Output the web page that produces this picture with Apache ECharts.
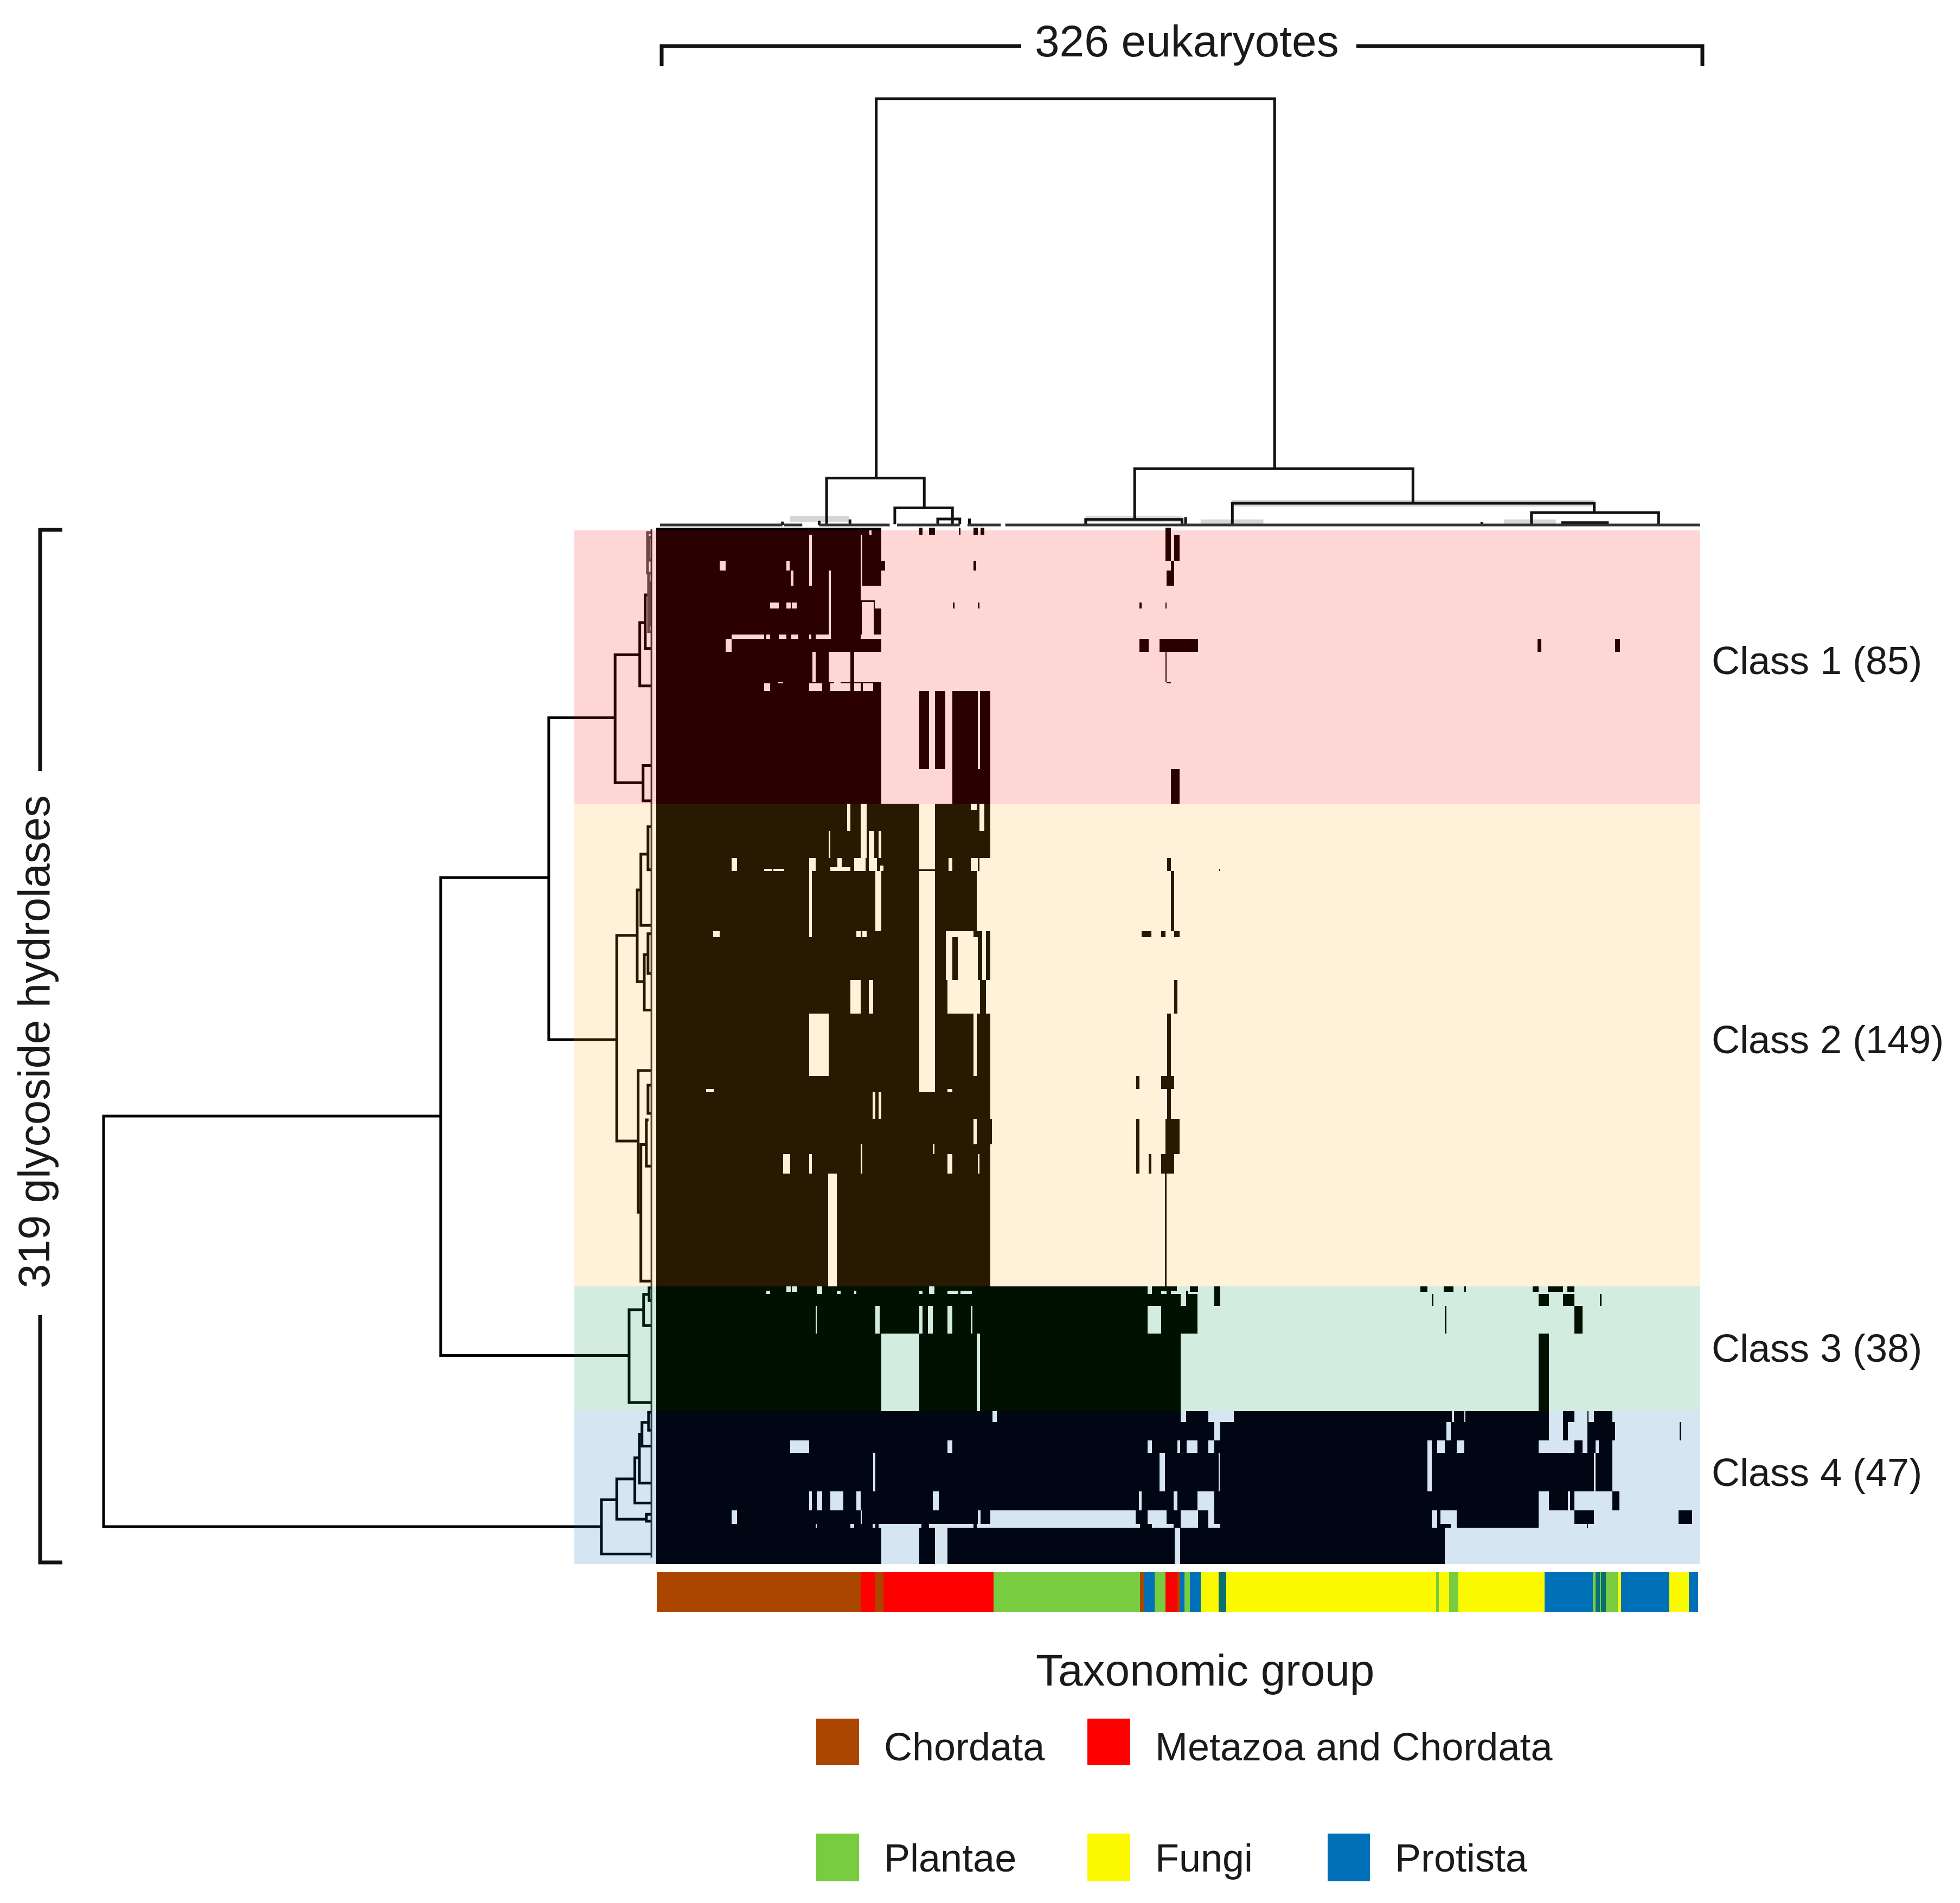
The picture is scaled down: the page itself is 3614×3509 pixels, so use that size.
<!DOCTYPE html>
<html><head><meta charset="utf-8">
<script src="https://cdn.jsdelivr.net/npm/echarts@6/dist/echarts.min.js"></script>
<style>html,body{margin:0;padding:0;background:#fff}#c{width:3614px;height:3509px}</style>
</head><body><div id="c"></div>
<script>
// Matrix cells: [colStart, colEnd, rowStart, rowEnd] on 326 eukaryotes x 319 glycoside hydrolases
const class1Base=[[0,70.3,0,85]];
const class1Gaps=[[63.9,64.4,2.2,17.8],[66.5,67.3,0,2.2],[19.8,21.7,10.1,13.2],[40.7,41.7,10.1,13.2],[42,42.9,13.2,17.8],[47.7,48.6,2.2,17.8],[53.8,54.6,13.2,34.2],[35.5,38.3,23,24.8],[40.7,42,23,24.8],[42.4,43.9,23,24.8],[63.9,70.3,17.8,22.4],[64.2,67.9,22.9,34.2],[68.2,70.3,22.4,24.8],[63.9,70.3,32.9,34.2],[23.6,33.7,32.9,34.2],[34.4,35.5,32.9,34.2],[38.3,40.7,32.9,34.2],[42.1,44.4,32.9,34.2],[47.7,48.5,32.9,34.2],[49.8,53.8,32.9,34.2],[21.7,23.6,34.2,38.3],[48.7,49.8,38.3,47.5],[53.8,60.6,38.3,47.5],[61.8,70.3,38.3,47.5],[33.7,35.5,47.9,50.2],[38,39.7,47.5,47.9],[47.7,51.9,47.9,50.2],[54.4,60.6,47.9,50.2],[61.8,63.9,47.9,50.2],[64.6,67.8,47.9,50.2],[55.5,57.5,47.5,47.9]];
const class1Marks=[[70.3,71.4,10.1,13.2],[68,70.3,47.5,50.2],[82.1,83.1,0,2.2],[85.2,87,0,2.2],[94.5,95,0,2.2],[99,100.4,0,2.2],[101.3,102.5,0,2.2],[99,100,10.1,13.2],[92.6,93.2,23,24.8],[100.4,101,23,24.8],[159,160.7,0,10.1],[161.7,163.5,2.2,10.1],[160.7,161.7,10.1,13.2],[159.3,161.7,13.2,17.8],[150.9,151.5,23,24.8],[159,159.4,23,24.8],[150.9,153.7,34.2,38.3],[157.2,169.2,34.2,38.3],[159,159.4,38.3,47.5],[159.3,160.7,47.5,47.9],[160.7,163.5,74.3,85],[275.2,276.4,34.2,38.3],[299.4,300.9,34.2,38.3],[82.1,85.2,50.2,74.3],[87,90.3,50.2,74.3],[92.5,100.4,50.2,85],[101.1,104.3,50.2,85],[100.4,101.1,74.3,85]];
const class1TopEdge=[[0,70.3,0,0.8]];

const class2Base=[[0,104.3,85,233.5]];
const class2Gaps=[[82.1,87,85,168.8],[82.1,87,168.8,173.7],[100.1,104.3,105.7,124.2],[59.6,60.6,85,93.3],[63.9,65.7,85,101.6],[101,102.5,85,93.3],[98.3,100.1,85,87],[53.8,54.3,93.3,101.6],[66.4,68.1,93.3,101.6],[69.5,70.3,93.3,101.6],[23.6,25.3,101.6,105.7],[33.7,36,105,105.7],[36.5,40,105,105.7],[47.7,49.8,101.6,105.7],[54.4,60.6,104.5,105.7],[56.5,58,101.6,105.7],[61.8,65.3,101.6,105.7],[66.4,69,101.6,105.7],[70,71,104,105.7],[91.2,92.4,101.6,105.7],[98.3,100.4,101.6,105.7],[101,104.3,101.6,105.7],[47.7,48.6,105.7,126.1],[68.4,70.3,105.7,124.2],[17.8,19.8,124.2,126.1],[62.5,63.9,124.2,126.1],[64.3,65.7,124.2,126.1],[91,99,124.2,126.1],[90.5,92.5,124.2,139.2],[94.2,100.4,126.1,139.2],[101.8,102.9,124.2,139.2],[91,101.1,139.2,149.6],[102.9,104.3,139.2,149.6],[60.6,63.9,139.2,149.6],[66.4,67.8,139.2,149.6],[47.7,53.9,149.6,168.8],[99,100.1,149.6,168.8],[91,92.4,172.7,173.7],[15.6,18,172.7,173.7],[67.5,68.4,173.7,182],[69.5,70.3,173.7,182],[99,100.1,182,189.8],[63.9,64.3,189.8,198.8],[86.3,86.9,189.8,192.8],[39.7,41.8,192.8,198.8],[47.7,48.6,192.8,198.8],[91,92.4,192.8,198.8],[100.4,101,192.8,198.8],[53.6,56.4,198.8,233.5]];
const class2Marks=[[82.1,87,105.1,105.7],[104.3,104.9,182,189.8],[159.5,160.7,101.6,105.7],[160.7,161.7,105.7,124.2],[151.6,154.7,124.2,126.1],[157.6,159,124.2,126.1],[161.7,163.5,124.2,126.1],[161.7,162.8,139.2,149.6],[159.5,160.7,149.6,168.8],[157.6,161.7,168.8,172.7],[149.8,150.9,168.8,172.7],[159.5,160.7,172.7,182],[159,163.5,182,192.8],[149.8,150.9,182,198.8],[153.7,154.7,192.8,198.8],[157.6,161.7,192.8,198.8],[158.9,159.4,198.8,233.5],[175.8,176.1,105,105.7]];

const class3Base=[[0,163.7,233.5,272]];
const class3Gaps=[[70.3,82.1,248.1,272],[100.1,101.1,248.1,272],[49.8,50.2,239.5,248.1],[68.4,69.8,239.5,248.1],[82.1,83.1,239.5,248.1],[84.9,86.3,239.5,248.1],[91,92.4,239.5,248.1],[98.3,98.7,239.5,248.1],[153.5,157.6,239.5,248.1],[34.4,35.5,234.9,235.9],[40.7,42,233.5,235.2],[42.4,44,233.5,235.2],[50.2,51.9,233.5,235.9],[56.4,57.5,234.9,235.9],[61.8,62.5,234.9,235.9],[82.1,83.1,234.9,235.9],[85.2,86.9,233.5,235.9],[91,94.3,234.9,235.9],[95,98.5,234.9,235.9],[153.5,154.8,233.5,235.9],[157.6,159.3,235,235.9],[160.7,163.7,234.9,235.9],[162.5,163.7,233.5,235.9]];
const class3Marks=[[165.4,169,235.9,239.5],[163.7,169,239.5,248.1],[166.7,169.2,233.5,235.2],[165.4,166.2,234.9,235.9],[174.3,176.1,233.5,239.5],[238.6,240.8,233.5,235.2],[245.9,249,233.5,235.2],[252.3,252.8,233.5,235.2],[273.6,275.5,233.5,235.2],[278.4,283.1,233.5,235.2],[284.5,286.7,233.5,235.2],[242.2,242.7,235.9,239.5],[275.5,278.7,235.9,239.5],[283.1,286.7,235.9,239.5],[294.7,295.2,235.9,239.5],[246.2,246.7,239.5,248.1],[286.7,289.2,239.5,248.1],[275.5,278.7,248.1,272]];

const class4Base=[[0,298.5,272,307.8]];
const class4Gaps=[[163.7,165.4,272,275.2],[172.4,180.3,272,275.2],[248.5,249.1,272,275.2],[252.3,252.7,272,275.2],[278.7,283.1,272,275.2],[286.7,290.8,272,275.2],[291.1,292.8,272,275.2],[105,106.3,272,275.2],[174.3,176.1,275.2,281],[246.8,248.1,275.2,281],[278.7,283.1,275.2,281],[284.6,290.8,275.2,281],[41.8,47.7,281,284.7],[91,92.4,281,284.7],[153.5,154.8,281,284.7],[162.8,163.6,281,284.7],[165.7,169,281,284.7],[172.4,174.3,281,284.7],[240.8,242.1,281,284.7],[243.9,246.2,281,284.7],[250,252.3,281,284.7],[275.5,286.7,281,284.7],[289.2,290.8,281,284.7],[293.3,294.4,281,284.7],[67.7,68.4,284.7,296.6],[157.1,158.9,284.7,296.6],[175.6,175.9,284.7,296.6],[240.8,242.1,284.7,296.6],[292.8,293.3,284.7,296.6],[47.7,48.6,296.6,302.5],[50.2,51.9,296.6,302.5],[54.3,58.5,296.6,302.5],[62.5,63.9,296.6,302.5],[86.3,88.2,296.6,302.5],[150.7,151.5,296.6,302.5],[161.6,162.8,296.6,302.5],[169,174.3,296.6,302.5],[275.5,278.7,296.6,302.5],[284.6,285.4,296.6,302.5],[286.7,298.5,296.6,302.5],[23.6,25.3,302.5,306.6],[63.9,64.2,302.5,306.6],[100.4,101.2,302.5,306.6],[104.3,149.7,302.5,306.6],[153.5,159.3,302.5,306.6],[163.7,169.2,302.5,306.6],[172.4,174.3,302.5,306.6],[242.1,243.9,302.5,306.6],[244.9,250,302.5,306.6],[275.5,286.7,302.5,306.6],[292.8,298.5,302.5,306.6],[49.8,50.2,306.6,307.8],[60.6,61.8,306.6,307.8],[67.5,68.4,306.6,307.8],[69.5,82.8,306.6,307.8],[85.2,99,306.6,307.8],[100.1,151,306.6,307.8],[154.8,161.6,306.6,307.8],[163.7,169.2,306.6,307.8],[172.4,176.1,306.6,307.8],[242.1,243.9,306.6,307.8],[248.1,250,306.6,307.8],[275.5,298.5,306.6,307.8]];
const class4Marks=[[0,70.3,307.8,319],[82.1,87,307.8,319],[91,161.9,307.8,319],[163.6,246.2,307.8,319],[298.5,299.4,275.2,281],[298.5,300.7,296.6,302.5],[290.6,291,306.6,307.8],[319.5,320.1,275.2,281],[319.2,323.4,302.5,306.6]];

// Class bands: [rowStart, rowEnd, tint]
const classBands=[[0.8,85,'rgba(255,0,0,0.161)'],[85,233.5,'rgba(255,170,0,0.15)'],[233.5,272,'rgba(0,150,80,0.176)'],[272,319,'rgba(0,100,170,0.165)']];
const classPresent=['#2b0000','#271a00','#001100','#000614'];
const classAbsent=['#ffd6d6','#fff2d9','#d2ede0','#d5e5f1'];
const classLabels=['Class 1 (85)','Class 2 (149)','Class 3 (38)','Class 4 (47)'];

// Taxonomic strip: [colStart, colEnd, group index]
const taxonGroups=['Chordata','Metazoa and Chordata','Plantae','Fungi','Protista','Mixed'];
const taxonColors=['#ab4600','#fe0000','#77cc3f','#fbf900','#0070b8','#0b7070'];
const taxonStrip=[[0.2,63.9,0],[63.9,68.4,1],[68.4,70.9,0],[70.9,105.3,1],[105.3,151,2],[151,152.3,0],[152.3,155.7,4],[155.7,159,2],[159,162.8,1],[162.8,163.6,0],[163.6,165,4],[165,166.7,2],[166.7,170,4],[170,175.6,3],[175.6,178,5],[178,243.6,3],[243.6,244.4,2],[244.4,247.6,3],[247.6,250.5,2],[250.5,277.4,3],[277.4,292.4,4],[292.4,293.3,2],[293.3,294.6,5],[294.6,295,2],[295,296.6,5],[296.6,300.3,2],[300.3,301.3,3],[301.3,316.4,4],[316.4,322.4,3],[322.4,325.3,4]];

// Top dendrogram merges: [colA, colB, height, heightA, heightB]
const topMerges=[[68.7,193.1,100,11,13.2],[53.2,83.7,11,0.2,4],[74.5,92.5,4,0.2,0.2],[149.4,236.3,13.2,1.3,5.1],[179.9,292.9,5.1,0.2,2.9],[273.3,313,2.9,0.2,0.2],[134.1,164.2,1.3,0,0],[87.9,94.8,1.4,0.2,0.2],[97.8,97.8,1.5,0,0],[165.3,165.3,1.8,0,0],[39.4,39.4,0.8,0,0],[50.9,50.9,1.0,0,0],[257.8,257.8,0.7,0,0],[283,297,0.55,0,0],[60.5,60.5,1.3,0,0]];
const topHazeBands=[[179.9,292.9,5.1],[41.7,60.2,1.4],[134.1,164.2,1.4],[264.7,280.9,0.55],[170,189.6,0.55]];
const topBaseline=[[1.2,39.4,0,0],[39.9,45.6,0,0],[50.9,72.9,0,0],[75.2,94.8,0,0],[97.2,107.6,0,0],[109,325.9,0,0]];

// Left dendrogram merges: [rowA, rowB, height, heightA, heightB]
const leftMerges=[[181.1,307.5,100,38.5,9.2],[107.7,254.8,38.5,18.8,4.15],[58.5,157.6,18.8,6.7,6.4],[39.1,78.5,6.7,2.2,1.6],[29.2,48.7,2.2,1.2,0],[20.7,37.2,1.2,0.6,0],[73.2,84.1,1.6,0,0],[125.5,188.8,6.4,2.67,2.5],[111.5,139.7,2.67,2,1.38],[100.5,122.4,2,0.7,0],[92,105.3,0.7,0,0],[131.4,148.5,1.38,0.7,0],[125,137.2,0.7,0,0],[167.1,210.7,2.5,0,2],[189.9,231.9,2,1,0],[182.3,196.5,1,0.6,0],[171.6,180.3,0.7,0,0],[240.7,269.3,4.15,1.5,0],[236,245.6,1.5,0.5,0],[234,237.9,0.5,0,0],[299.2,315.9,9.2,6.4,0],[292.8,305.2,6.4,3.1,1],[303.7,305.8,1,0,0],[286.3,300.2,3.1,2.27,0],[279,294.1,2.27,1.8,0],[275.4,282.7,1.8,0.6,0],[272.3,277.8,0.6,0,0]];
const leftDense=[[1.5,14,0.8,0,0.4],[14,32,0.6,0.2,0.2],[3,10,0.5,0,0],[17,30,0.4,0,0]];
const leftLeafLine=[[0.5,317,0.08,0.08,0.08]];

const rectItem=(fill)=>(p,api)=>{
  const a=api.coord([api.value(0),api.value(2)]),b=api.coord([api.value(1),api.value(3)]);
  const x0=Math.round(Math.min(a[0],b[0])),x1=Math.round(Math.max(a[0],b[0])),y0=Math.round(Math.min(a[1],b[1])),y1=Math.round(Math.max(a[1],b[1]));
  return {type:'rect',silent:true,shape:{x:x0,y:y0,width:Math.max(1,x1-x0),height:Math.max(1,y1-y0)},style:{fill}};
};
const base={type:'custom',coordinateSystem:'cartesian2d',clip:false,silent:true,animation:false};
const rects=(data,fill,z,g)=>Object.assign({},base,{xAxisIndex:g,yAxisIndex:g,z,data,encode:{x:[0,1],y:[2,3]},renderItem:rectItem(fill)});
const bandSeries=(g,x0,x1)=>classBands.map(b=>rects([[x0,x1,b[0],b[1]]],b[2],20,g));

const topU=(stroke,w)=>(p,api)=>{
  const x0=api.value(0),x1=api.value(1),h=api.value(2),a=api.value(3),b=api.value(4);
  const pts=[[x0,a],[x0,h],[x1,h],[x1,b]].map(q=>api.coord(q));
  return {type:'polyline',silent:true,shape:{points:pts},style:{stroke:stroke,lineWidth:w,fill:'none'}};
};
const leftU=(stroke,w)=>(p,api)=>{
  const r0=api.value(0),r1=api.value(1),h=api.value(2),a=api.value(3),b=api.value(4);
  const pts=[[a,r0],[h,r0],[h,r1],[b,r1]].map(q=>api.coord(q));
  return {type:'polyline',silent:true,shape:{points:pts},style:{stroke:stroke,lineWidth:w,fill:'none'}};
};
const hatBand=(p,api)=>{
  const a=api.coord([api.value(0),api.value(2)]),b=api.coord([api.value(1),api.value(2)]);
  return {type:'rect',silent:true,shape:{x:a[0],y:a[1]-6,width:b[0]-a[0],height:12},style:{fill:'#d6d6d6'}};
};
const topSeries=(data,stroke,w,z)=>Object.assign({},base,{xAxisIndex:1,yAxisIndex:1,z,data,encode:{x:[0,1],y:[2,3,4]},renderItem:topU(stroke,w)});
const leftSeries=(data,stroke,w,z)=>Object.assign({},base,{xAxisIndex:2,yAxisIndex:2,z,data,encode:{x:[2,3,4],y:[0,1]},renderItem:leftU(stroke,w)});

const font='"Liberation Sans",Arial,sans-serif';
const T=(text,x,y,size,extra)=>Object.assign({type:'text',x,y,silent:true,z:50,style:{text,fontFamily:font,fontSize:size,fill:'#1a1a1a',textAlign:'left',textVerticalAlign:'middle'}},extra||{});
const P=(pts,w)=>({type:'polyline',silent:true,z:50,shape:{points:pts},style:{stroke:'#111',lineWidth:w,fill:'none'}});
const S=(x,y,w,h,fill)=>({type:'rect',silent:true,z:50,shape:{x,y,width:w,height:h},style:{fill}});

const graphic=[
  T('326 eukaryotes',1908,81,82),
  P([[1220,122],[1220,85],[1883,85]],7),P([[2501,85],[3139,85],[3139,122]],7),
  T(classLabels[0],3156,1223,72),T(classLabels[1],3156,1922,72),T(classLabels[2],3156,2491,72),T(classLabels[3],3156,2720,72),
  P([[115,977],[74,977],[74,1422]],7),P([[74,2425],[74,2881],[115,2881]],7),
  {type:'text',silent:true,z:50,x:69,y:1921,rotation:Math.PI/2,style:{text:'319 glycoside hydrolases',fontFamily:font,fontSize:81,fill:'#1a1a1a',textAlign:'center',textVerticalAlign:'middle'}},
  T('Taxonomic group',1910,3085,82),
  S(1505,3169,79,86,taxonColors[0]),T(taxonGroups[0],1630,3226,72),
  S(2005,3169,79,86,taxonColors[1]),T(taxonGroups[1],2130,3226,72),
  S(1505,3381,79,88,taxonColors[2]),T(taxonGroups[2],1630,3431,72),
  S(2005,3381,79,88,taxonColors[3]),T(taxonGroups[3],2130,3431,72),
  S(2448,3381,78,88,taxonColors[4]),T(taxonGroups[4],2572,3431,72)
];

const ax=(min,max,inverse)=>({type:'value',min,max,inverse:!!inverse,show:false,splitLine:{show:false}});
const heat=(i,b,g,m)=>[rects(b,classPresent[i],21,0),rects(g,classAbsent[i],22,0),rects(m,classPresent[i],23,0)];
const option={
  backgroundColor:'#fff',animation:false,
  grid:[
    {left:1210,top:973,width:1925,height:1917},
    {left:1210,top:182,width:1925,height:786},
    {left:191,top:973,width:1019,height:1917},
    {left:1210,top:2899,width:1925,height:73}
  ],
  xAxis:[Object.assign(ax(0,326),{gridIndex:0}),Object.assign(ax(0,326),{gridIndex:1}),Object.assign(ax(-0.8,100,true),{gridIndex:2}),Object.assign(ax(0,326),{gridIndex:3})],
  yAxis:[Object.assign(ax(0,320,true),{gridIndex:0}),Object.assign(ax(0,100),{gridIndex:1}),Object.assign(ax(0,320,true),{gridIndex:2}),Object.assign(ax(0,1),{gridIndex:3})],
  graphic:graphic,
  series:[
    ...bandSeries(0,0,326),...bandSeries(2,-0.8,14.14),
    ...heat(0,class1Base,class1Gaps,class1Marks),...heat(1,class2Base,class2Gaps,class2Marks),
    ...heat(2,class3Base,class3Gaps,class3Marks),...heat(3,class4Base,class4Gaps,class4Marks),
    rects(class1TopEdge,'#000',24,0),
    Object.assign({},base,{xAxisIndex:1,yAxisIndex:1,z:1,data:topHazeBands,encode:{x:[0,1],y:[2]},renderItem:hatBand}),
    topSeries(topMerges,'#111',5,3),
    topSeries(topBaseline,'#333',5,3),
    leftSeries(leftMerges,'#000',5,5),
    leftSeries(leftDense,'#555',5,5),
    leftSeries(leftLeafLine,'#333',3,5),
    Object.assign({},base,{xAxisIndex:3,yAxisIndex:3,z:2,data:taxonStrip.map(d=>[d[0],d[1],0,1,d[2]]),encode:{x:[0,1],y:[2,3]},
      renderItem:(p,api)=>rectItem(taxonColors[api.value(4)])(p,api)})
  ]
};
echarts.init(document.getElementById('c'),null,{renderer:'canvas'}).setOption(option);
</script></body></html>
